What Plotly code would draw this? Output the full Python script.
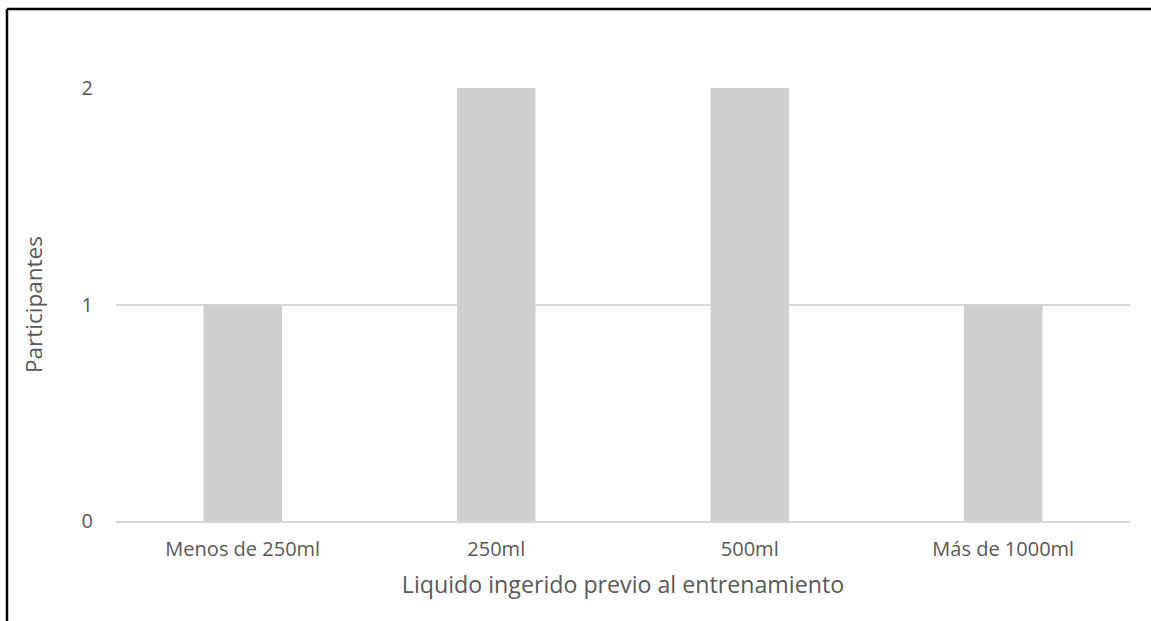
import plotly.graph_objects as go

categories = ["Menos de 250ml", "250ml", "500ml", "Más de 1000ml"]
participants = [1, 2, 2, 1]
y_ticks = [0, 1, 2]

W, H = 1151, 621
ML, MR, MT, MB = 116, 21, 88, 100
pw, ph = W - ML - MR, H - MT - MB


def px_x(x):
    return (x - ML) / pw


def px_y(y):
    return (H - MB - y) / ph


fig = go.Figure(
    go.Bar(
        x=categories,
        y=participants,
        marker=dict(color="#d0cece", line=dict(width=0)),
        width=0.31,
    )
)

font = dict(family="Open Sans, Liberation Sans, sans-serif", color="#595959")

fig.update_layout(
    width=W,
    height=H,
    margin=dict(l=ML, r=MR, t=MT, b=MB),
    plot_bgcolor="white",
    paper_bgcolor="white",
    showlegend=False,
    font=font,
    xaxis=dict(
        showgrid=False,
        showline=True,
        linecolor="#d9d9d9",
        linewidth=1.5,
        ticks="",
        tickfont=dict(size=20),
        ticklabelstandoff=9,
        title=dict(text="Liquido ingerido previo al entrenamiento", font=dict(size=23.2), standoff=16),
    ),
    yaxis=dict(
        range=[0, 2],
        tickvals=y_ticks,
        showgrid=True,
        gridcolor="#d9d9d9",
        gridwidth=1.5,
        zeroline=False,
        showline=False,
        ticks="",
        ticklabelstandoff=22,
        tickfont=dict(size=20),
        title=dict(text="Participantes", font=dict(size=22.5), standoff=32),
    ),
    shapes=[
        dict(type="line", xref="paper", yref="paper",
             x0=px_x(7), x1=px_x(W + 5), y0=px_y(9), y1=px_y(9),
             line=dict(color="black", width=2.5)),
        dict(type="line", xref="paper", yref="paper",
             x0=px_x(7), x1=px_x(7), y0=px_y(9), y1=px_y(H + 5),
             line=dict(color="black", width=2.5)),
    ],
)

fig.write_html("out.html")
